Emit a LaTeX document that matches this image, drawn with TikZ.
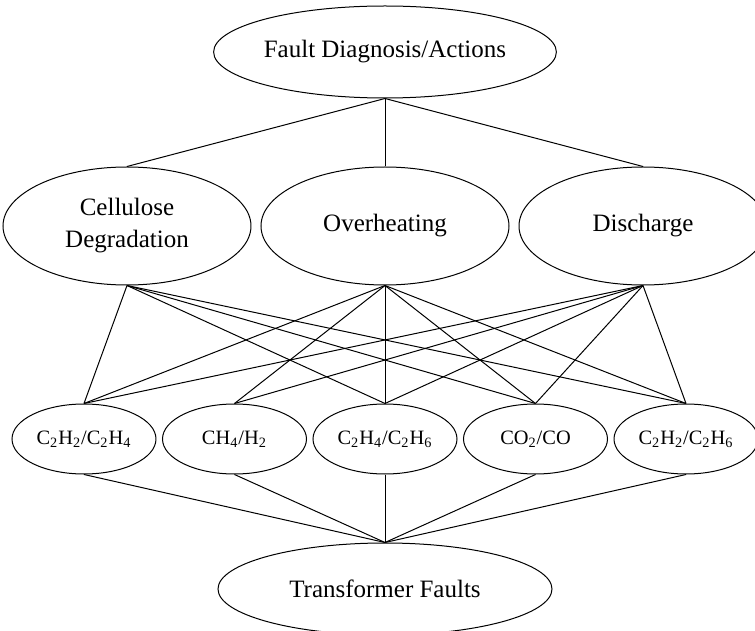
\documentclass[tikz,border=0pt]{standalone}
\usepackage{fontspec}
\setmainfont{Liberation Serif}
\usetikzlibrary{positioning}
\usetikzlibrary{shapes.geometric}
\tikzset{
    every path/.style={line width=0.5pt},
    level/.style={draw, ellipse, inner sep=0pt, minimum width=167pt, minimum height=46pt,
        font=\fontsize{12.5}{16}\selectfont},
    cause/.style={draw, ellipse, inner sep=0pt, minimum width=124pt, minimum height=59pt,
        align=center, font=\fontsize{12.5}{16}\selectfont},
    ratio/.style={draw, ellipse, inner sep=0pt, minimum width=72pt, minimum height=35pt,
        font=\fontsize{10.2}{12}\selectfont},
}

\begin{document}
\begin{tikzpicture}
        \useasboundingbox (-192.5pt, -202.5pt) rectangle (185pt, 113pt);

        \node[cause] (heat) at (0, 0) {Overheating};
        \node[cause] (cell) [left=4.5pt of heat] {Cellulose\\Degradation};
        \node[cause] (dis) [right=4.5pt of heat] {Discharge};

        \node[level] (diag) [above=34pt of heat] {Fault Diagnosis/Actions};

        \node[ratio] (G3) [below=59pt of heat] {C\textsubscript{2}H\textsubscript{4}/C\textsubscript{2}H\textsubscript{6}};
        \node[ratio] (G2) [left=2.75pt of G3] {CH\textsubscript{4}/H\textsubscript{2}};
        \node[ratio] (G1) [left=2.75pt of G2] {C\textsubscript{2}H\textsubscript{2}/C\textsubscript{2}H\textsubscript{4}};
        \node[ratio] (G4) [right=2.75pt of G3] {CO\textsubscript{2}/CO};
        \node[ratio] (G5) [right=2.75pt of G4] {C\textsubscript{2}H\textsubscript{2}/C\textsubscript{2}H\textsubscript{6}};

        \node[level] (faults) [below=34pt of G3] {Transformer Faults};

        \begin{scope}
            \draw (diag.south) -- (cell.north);
            \draw (diag.south) -- (heat.north);
            \draw (diag.south) -- (dis.north);

            \draw (cell.south) -- (G1.north);
            \draw (cell.south) -- (G3.north);
            \draw (cell.south) -- (G4.north);
            \draw (cell.south) -- (G5.north);

            \foreach \g in {G1, G2, G3, G4, G5} {
                \draw (heat.south) -- (\g.north);
                \draw (dis.south) -- (\g.north);
                \draw (\g.south) -- (faults.north);
            }
        \end{scope}

    \end{tikzpicture}
\end{document}
